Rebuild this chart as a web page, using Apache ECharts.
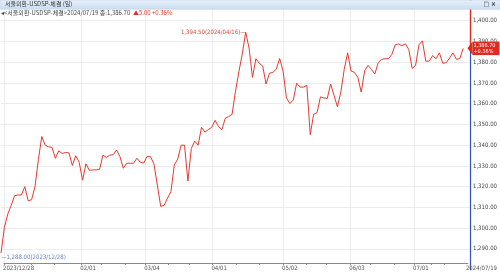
<!DOCTYPE html>
<html><head><meta charset="utf-8">
<script src="https://cdn.jsdelivr.net/npm/echarts@6/dist/echarts.min.js"></script>
<style>html,body{margin:0;padding:0;background:#fff}#c{width:500px;height:273px}</style>
</head><body><div id="c"></div>
<script>
const dates = [
'2023/12/28',
'2024/01/02','2024/01/03','2024/01/04','2024/01/05','2024/01/08','2024/01/09','2024/01/10','2024/01/11','2024/01/12','2024/01/15','2024/01/16','2024/01/17','2024/01/18','2024/01/19','2024/01/22','2024/01/23','2024/01/24','2024/01/25','2024/01/26','2024/01/29','2024/01/30','2024/01/31',
'2024/02/01','2024/02/02','2024/02/05','2024/02/06','2024/02/07','2024/02/08','2024/02/13','2024/02/14','2024/02/15','2024/02/16','2024/02/19','2024/02/20','2024/02/21','2024/02/22','2024/02/23','2024/02/26','2024/02/27','2024/02/28','2024/02/29',
'2024/03/04','2024/03/05','2024/03/06','2024/03/07','2024/03/08','2024/03/11','2024/03/12','2024/03/13','2024/03/14','2024/03/15','2024/03/18','2024/03/19','2024/03/20','2024/03/21','2024/03/22','2024/03/25','2024/03/26','2024/03/27','2024/03/28','2024/03/29',
'2024/04/01','2024/04/02','2024/04/03','2024/04/04','2024/04/05','2024/04/08','2024/04/09','2024/04/11','2024/04/12','2024/04/15','2024/04/16','2024/04/17','2024/04/18','2024/04/19','2024/04/22','2024/04/23','2024/04/24','2024/04/25','2024/04/26','2024/04/29','2024/04/30',
'2024/05/02','2024/05/03','2024/05/07','2024/05/08','2024/05/09','2024/05/10','2024/05/13','2024/05/14','2024/05/16','2024/05/17','2024/05/20','2024/05/21','2024/05/22','2024/05/23','2024/05/24','2024/05/27','2024/05/28','2024/05/29','2024/05/30','2024/05/31',
'2024/06/03','2024/06/04','2024/06/05','2024/06/07','2024/06/10','2024/06/11','2024/06/12','2024/06/13','2024/06/14','2024/06/17','2024/06/18','2024/06/19','2024/06/20','2024/06/21','2024/06/24','2024/06/25','2024/06/26','2024/06/27','2024/06/28',
'2024/07/01','2024/07/02','2024/07/03','2024/07/04','2024/07/05','2024/07/08','2024/07/09','2024/07/10','2024/07/11','2024/07/12','2024/07/15','2024/07/16','2024/07/17','2024/07/18','2024/07/19'
];
const closes = [
1288.0,
1300.4,1306.8,1311.0,1315.7,1316.0,1316.0,1320.0,1313.2,1313.7,1320.0,1333.0,1344.2,1340.0,1339.2,1339.0,1333.7,1337.3,1336.0,1336.5,1336.3,1330.2,1334.9,
1331.8,1323.1,1331.0,1327.9,1328.1,1328.1,1328.3,1335.2,1334.1,1335.2,1335.4,1337.7,1334.5,1328.9,1331.3,1331.3,1331.3,1333.7,1331.8,
1331.4,1334.6,1334.5,1331.0,1320.8,1310.5,1311.0,1314.5,1317.6,1330.5,1333.3,1340.0,1340.0,1322.7,1338.4,1342.0,1340.0,1348.6,1346.3,1347.5,
1348.6,1352.0,1349.0,1347.5,1353.0,1353.8,1354.9,1366.0,1375.4,1384.0,1394.5,1386.8,1372.7,1381.7,1379.5,1378.2,1369.5,1374.7,1375.1,1376.6,1381.8,
1375.8,1362.8,1360.1,1361.7,1369.9,1368.0,1368.0,1368.8,1345.1,1354.9,1355.7,1363.3,1362.8,1362.5,1369.5,1364.0,1358.5,1365.6,1376.6,1384.5,
1375.8,1375.1,1372.7,1365.6,1375.8,1378.5,1376.6,1374.3,1379.8,1381.4,1381.7,1381.7,1383.7,1388.4,1388.8,1388.0,1388.9,1386.1,1377.0,
1378.5,1388.4,1390.3,1380.5,1380.5,1383.2,1381.7,1384.5,1379.5,1379.8,1382.0,1384.5,1381.4,1381.7,1386.7
];
const xLabelDates = ['2023/12/28','2024/02/01','2024/03/04','2024/04/01','2024/05/02','2024/06/03','2024/07/01'];
const xLabelTexts = ['2023/12/28','02/01','03/04','04/01','05/02','06/03','07/01'];
const padCats = ['pad1','pad2'];
const yMin = 1280, yMax = 1410, yStep = 10;
const titleText = '서울외환-USDSP-체결 (일)';
const seriesName = '서울외환-USDSP-체결';

const cats = dates.concat(padCats);
const n = closes.length;
const last = closes[n-1], prev = closes[n-2];
const chg = last - prev, pct = chg / prev * 100;
function fmt(v){ const s = v.toFixed(2).split('.'); return s[0].replace(/\B(?=(\d{3})+(?!\d))/g, ',') + '.' + s[1]; }
let iMax = 0, iMin = 0;
closes.forEach((v,i)=>{ if(v>closes[iMax]) iMax=i; if(v<closes[iMin]) iMin=i; });

const labelIdx = xLabelDates.map(d=>dates.indexOf(d));
const tickIdx = new Set();
labelIdx.forEach((li,k)=>{ tickIdx.add(li); const nx = k+1<labelIdx.length ? labelIdx[k+1] : n-1; tickIdx.add(li+Math.round((nx-li)/3)); tickIdx.add(li+Math.round(2*(nx-li)/3)); });

const narrow = "'Liberation Sans Narrow','DejaVu Sans Condensed','Liberation Sans',sans-serif";
const kr = "'Noto Sans CJK KR',sans-serif";
const chart = echarts.init(document.getElementById('c'), null, {renderer:'canvas'});
const G = {left:1, right:25};
const pxPerUnit = 2.118;
const y1400 = 15.5;
const g0top = y1400 - (yMax-1400)*pxPerUnit;
const g0h = (yMax-yMin)*pxPerUnit;
const tagRed = '#e02a1e';
chart.setOption({
  animation:false,
  backgroundColor:'#fff',
  grid:[
    {left:G.left, right:G.right, top:g0top, height:g0h, containLabel:false},
    {left:G.left, right:G.right, top:9, bottom:10, containLabel:false}
  ],
  xAxis:[
    {gridIndex:0, type:'category', data:cats, boundaryGap:false, show:false},
    {gridIndex:1, type:'category', data:cats, boundaryGap:false,
     axisLine:{lineStyle:{color:'#8a8a8a', width:1}},
     axisTick:{show:true, length:2, interval:(i)=>tickIdx.has(i), lineStyle:{color:'#8a8a8a'}},
     axisLabel:{interval:(i,v)=>xLabelDates.includes(v), formatter:(v)=>xLabelTexts[xLabelDates.indexOf(v)]||'',
       align:'left', margin:2, fontSize:6, color:'#555', fontFamily:narrow, padding:[0,0,0,-1]},
     splitLine:{show:true, interval:(i,v)=>xLabelDates.includes(v), lineStyle:{color:'#ececec', width:1}},
     name:dates[n-1], nameLocation:'end', nameGap:-2,
     nameTextStyle:{align:'left', verticalAlign:'top', fontSize:6, color:'#555', fontFamily:narrow, padding:[2,0,0,0]}
    }
  ],
  yAxis:[
    {gridIndex:0, type:'value', position:'right', min:yMin, max:yMax, interval:yStep,
     axisLine:{show:true, lineStyle:{color:'#3650c8', width:1.2}},
     axisTick:{show:false},
     axisLabel:{show:true, showMinLabel:false, showMaxLabel:false, margin:3, fontSize:6, color:'#444', fontFamily:narrow, formatter:(v)=>fmt(v)},
     splitLine:{show:true, showMinLine:false, showMaxLine:false, lineStyle:{color:'#ececec', width:1}}
    },
    {gridIndex:1, type:'value', show:false}
  ],
  series:[{
    type:'line', name:seriesName, xAxisIndex:0, yAxisIndex:0, clip:false,
    data:closes, symbol:'none', lineStyle:{color:'#e53a2e', width:1}, itemStyle:{color:'#e53a2e'},
    markLine:{
      silent:true, symbol:['none','none'],
      data:[
        [{coord:[padCats[1], last], lineStyle:{color:tagRed, width:1.2, type:'solid'}, label:{show:false}},
         {coord:[padCats[1], yMax]}]
      ]
    },
    markPoint:{
      symbol:'circle', symbolSize:0, silent:true, z:10,
      data:[
        {coord:[dates[iMax], closes[iMax]], label:{show:true, position:'left', distance:0, formatter: fmt(closes[iMax])+'('+dates[iMax]+')—', color:'#e5463c', fontSize:6, fontFamily:narrow}},
        {coord:[dates[iMin], closes[iMin]], label:{show:true, position:'right', distance:0, offset:[0,4], formatter: '—'+fmt(closes[iMin])+'('+dates[iMin]+')', color:'#5f86c8', fontSize:6, fontFamily:narrow}},
        {coord:[padCats[1], last], symbol:'triangle', symbolSize:[13,5], symbolRotate:90, symbolOffset:[0,0], itemStyle:{color:tagRed},
         label:{show:true, position:'right', distance:0,
          formatter: fmt(last)+'\n'+(chg>=0?'+':'')+pct.toFixed(2)+'%', color:'#fff', backgroundColor:tagRed,
          fontSize:5.5, lineHeight:6.5, padding:[0.5,4,0,1], fontFamily:narrow, align:'left'}}
      ]
    }
  }],
  graphic:[
    {type:'rect', left:0, top:0, z:100, shape:{x:0,y:0,width:500,height:9},
     style:{fill:new echarts.graphic.LinearGradient(0,0,0,1,[{offset:0,color:'#e6f0fa'},{offset:1,color:'#cadcf0'}]), stroke:'#b8cde6', lineWidth:0.5}},
    {type:'text', left:5, top:1, z:101, style:{text:titleText, fill:'#333', font:'6px '+kr}},
    {type:'text', right:4, top:0.5, z:101, style:{text:'□ ×', fill:'#333', font:'bold 6.5px '+narrow}},
    {type:'text', left:1, top:9.5, z:101, style:{
      text:'{a|◂<'+seriesName+'>'+dates[n-1]+' 종:'+fmt(last)+'}{b|  ▲'+chg.toFixed(2)+' +'+pct.toFixed(2)+'%}',
      rich:{a:{fill:'#444', font:'6px '+kr}, b:{fill:'#e0302a', font:'6px '+kr}}}}
  ]
});
</script></body></html>
